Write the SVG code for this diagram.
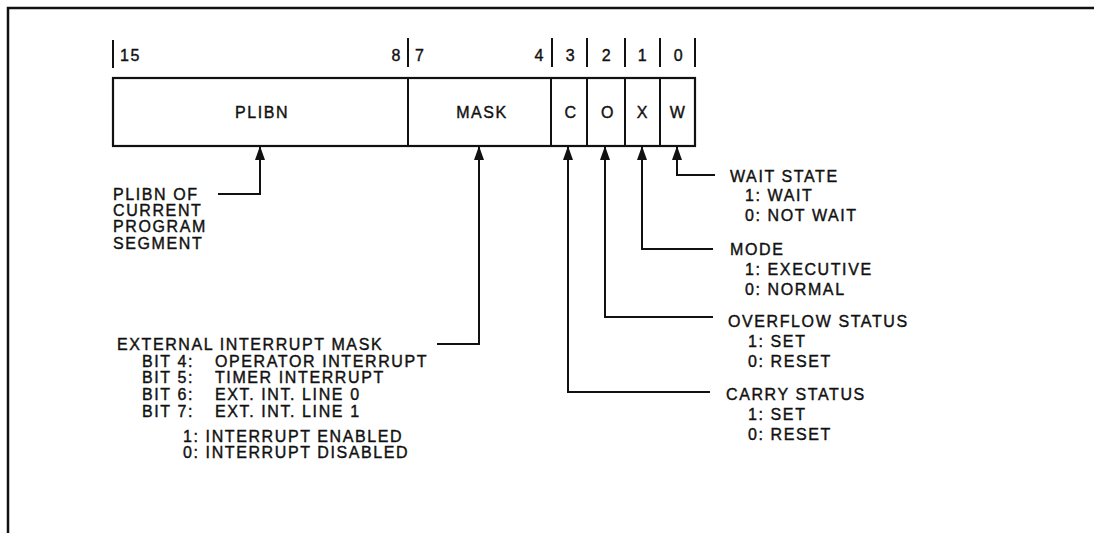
<svg xmlns="http://www.w3.org/2000/svg" width="1094" height="533" viewBox="0 0 1094 533">
<style>
text{font-family:"Liberation Sans",Arial,sans-serif;font-size:16px;letter-spacing:1.6px;fill:#111;stroke:#111;stroke-width:0.4;}
.m{text-anchor:middle}
.e{text-anchor:end}
.ln{fill:none;stroke:#111;stroke-width:2}
.box{fill:#fff;stroke:#111;stroke-width:2.2}
</style>
<defs>
<marker id="ah" markerUnits="userSpaceOnUse" markerWidth="14" markerHeight="10" viewBox="0 0 14 10" refX="14" refY="5" orient="auto-start-reverse">
<path d="M0,0 L14,5 L0,10 z" fill="#111"/>
</marker>
</defs>
<rect width="1094" height="533" fill="#fff"/>
<path d="M8,533 V8 H1094" fill="none" stroke="#111" stroke-width="2.5"/>

<g id="bit-numbers">
<path class="ln" d="M113,40 V68 M408,38 V67 M552,38 V67 M587,38 V67 M625,38 V67 M660,38 V67 M695,38 V67"/>
<text x="120" y="61">15</text>
<text x="402" y="61" class="e">8</text>
<text x="415" y="61">7</text>
<text x="545" y="61" class="e">4</text>
<text x="571" y="61" class="m">3</text>
<text x="607" y="61" class="m">2</text>
<text x="643" y="61" class="m">1</text>
<text x="679" y="61" class="m">0</text>
</g>

<g id="register">
<rect class="box" x="113" y="78" width="582" height="68"/>
<path class="ln" d="M408,78 V146 M551,78 V146 M587,78 V146 M625,78 V146 M660,78 V146" stroke-width="2.2"/>
<text x="262" y="118" class="m">PLIBN</text>
<text x="482" y="118" class="m">MASK</text>
<text x="571" y="118" class="m">C</text>
<text x="608" y="118" class="m">O</text>
<text x="643" y="118" class="m">X</text>
<text x="678" y="118" class="m">W</text>
</g>

<g id="connectors">
<path class="ln" marker-start="url(#ah)" d="M260,146 V194 H218"/>
<path class="ln" marker-start="url(#ah)" d="M479,146 V344 H437"/>
<path class="ln" marker-start="url(#ah)" d="M568,146 V392 H710"/>
<path class="ln" marker-start="url(#ah)" d="M605,146 V317 H713"/>
<path class="ln" marker-start="url(#ah)" d="M642,146 V249 H713"/>
<path class="ln" marker-start="url(#ah)" d="M677,146 V175 H715"/>
</g>

<g id="plibn-note">
<text x="113" y="200">PLIBN OF</text>
<text x="113" y="216">CURRENT</text>
<text x="113" y="232">PROGRAM</text>
<text x="113" y="249">SEGMENT</text>
</g>

<g id="mask-note">
<text x="117" y="350">EXTERNAL INTERRUPT MASK</text>
<text x="142" y="367">BIT 4:</text><text x="215" y="367">OPERATOR INTERRUPT</text>
<text x="142" y="383">BIT 5:</text><text x="215" y="383">TIMER INTERRUPT</text>
<text x="142" y="400">BIT 6:</text><text x="215" y="400">EXT. INT. LINE 0</text>
<text x="142" y="417">BIT 7:</text><text x="215" y="417">EXT. INT. LINE 1</text>
<text x="183" y="442">1: INTERRUPT ENABLED</text>
<text x="183" y="458">0: INTERRUPT DISABLED</text>
</g>

<g id="wait-note">
<text x="730" y="182">WAIT STATE</text>
<text x="745" y="201">1: WAIT</text>
<text x="745" y="221">0: NOT WAIT</text>
</g>

<g id="mode-note">
<text x="730" y="255">MODE</text>
<text x="745" y="275">1: EXECUTIVE</text>
<text x="745" y="295">0: NORMAL</text>
</g>

<g id="overflow-note">
<text x="728" y="327">OVERFLOW STATUS</text>
<text x="748" y="347">1: SET</text>
<text x="748" y="367">0: RESET</text>
</g>

<g id="carry-note">
<text x="726" y="400">CARRY STATUS</text>
<text x="748" y="420">1: SET</text>
<text x="748" y="440">0: RESET</text>
</g>
</svg>
